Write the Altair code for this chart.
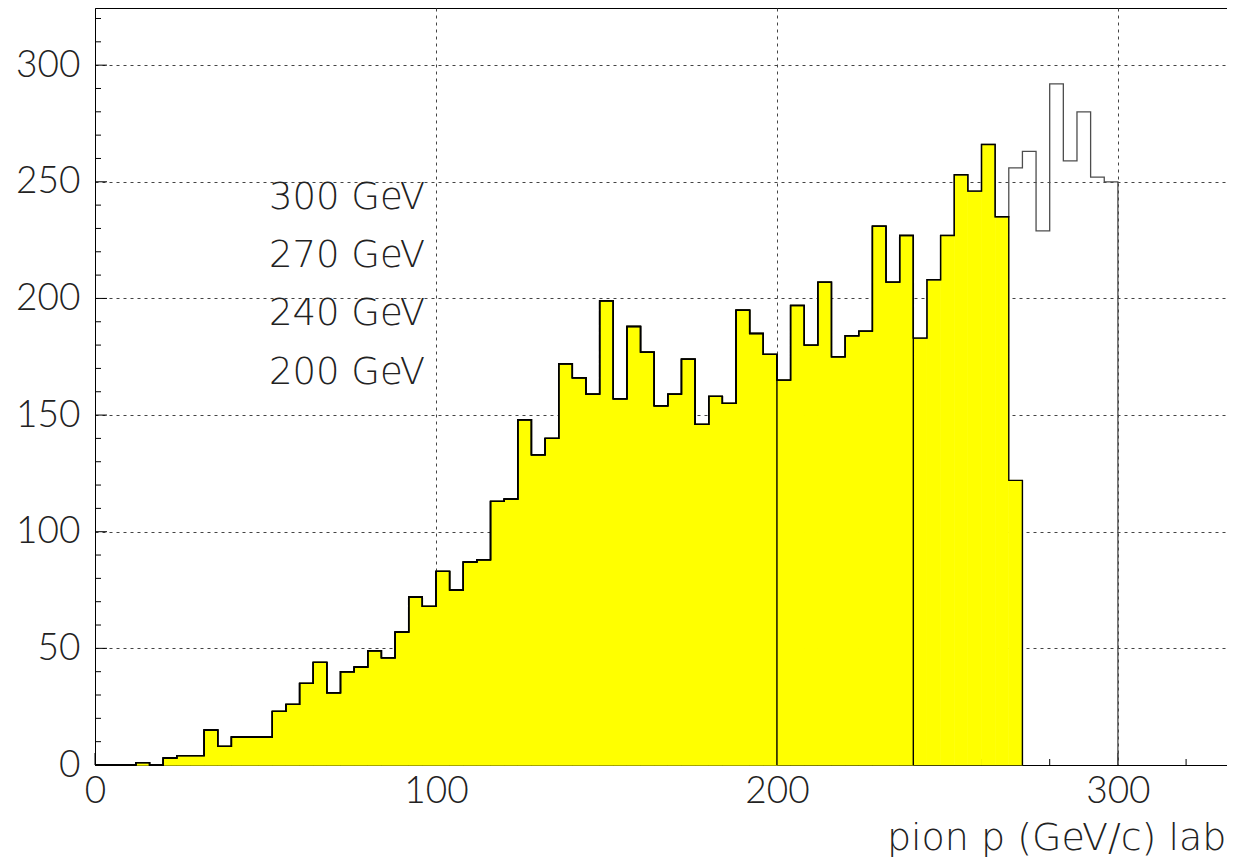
import altair as alt
import pandas as pd

# ---------------- data ----------------
BIN_WIDTH = 4  # GeV/c per bin

# counts of the 300 GeV histogram, bins starting at 0, 4, 8, ... 296
counts_300 = [
    0, 0, 0, 1, 0, 3, 4, 4, 15, 8, 12, 12, 12, 23, 26, 35, 44, 31, 40, 42, 49, 46, 57, 72, 68,
    83, 75, 87, 88, 113, 114, 148, 133, 140, 172, 166, 159, 199, 157, 188, 177, 154, 159, 174, 146,
    158, 155, 195, 185, 176,
    165, 197, 180, 207, 175, 184, 186, 231, 207, 227, 183, 208, 227, 253, 246, 266, 235, 256, 263,
    229, 292, 259, 280, 252, 250,
]

hist_names = ["300 GeV", "270 GeV", "240 GeV", "200 GeV"]
hist_nbins = [75, 68, 60, 50]          # number of 4-GeV bins in each histogram
hist_filled = [False, True, True, True]
last_bin_override = {"270 GeV": 122}   # last bin of the 270 GeV histogram

label_x = [51, 51, 51, 51]
label_y = [238.5, 213.5, 188.5, 163.5]

x_major = [0, 100, 200, 300]
x_minor = [v for v in range(0, 333, 20) if v not in x_major]
y_major = [0, 50, 100, 150, 200, 250, 300]
y_minor = [v for v in range(0, 325, 10) if v not in y_major]

X_DOMAIN = [0, 332]
Y_DOMAIN = [0, 324.5]

# ---------------- build tables ----------------
line_rows, rect_rows = [], []
for name, nb, filled in zip(hist_names, hist_nbins, hist_filled):
    vals = list(counts_300[:nb])
    if name in last_bin_override:
        vals[-1] = last_bin_override[name]
    pts = [(k * BIN_WIDTH, v) for k, v in enumerate(vals)]
    pts.append((nb * BIN_WIDTH, vals[-1]))
    for i, (x, y) in enumerate(pts):
        line_rows.append({"h": name, "i": i, "x": x, "y": y})
    line_rows.append({"h": name, "i": len(pts), "x": nb * BIN_WIDTH, "y": 0})
    if filled:
        for k, v in enumerate(vals):
            rect_rows.append({"h": name, "x": k * BIN_WIDTH, "x2": (k + 1) * BIN_WIDTH,
                              "y": v, "base": 0})

lines = pd.DataFrame(line_rows)
rects = pd.DataFrame(rect_rows)
labels = pd.DataFrame({"x": label_x, "y": label_y, "t": hist_names})

W, H = 1132, 757
TICK_FONT = "Lato"
TEXT_FONT = "DejaVu Sans"

xs = alt.Scale(domain=X_DOMAIN, nice=False, zero=False)
ys = alt.Scale(domain=Y_DOMAIN, nice=False, zero=False)

x_axis = alt.Axis(values=x_major, grid=True, tickSize=0, labelPadding=8, labelFlush=False,
                  labelOverlap=False, title="pion p (GeV/c) lab", titleX=1131, titleY=84,
                  titleAlign="right", titleBaseline="alphabetic", titleAnchor="end")
y_axis = alt.Axis(values=y_major, grid=True, tickSize=0, labelPadding=15, labelFlush=False,
                  labelOverlap=False, title=None)

ticks_x_major = alt.Chart(pd.DataFrame({"x": x_major})).mark_rule(color="black", strokeWidth=1).encode(
    x=alt.X("x:Q", scale=xs, axis=x_axis), y=alt.value(H), y2=alt.value(H - 12))
ticks_x_minor = alt.Chart(pd.DataFrame({"x": x_minor})).mark_rule(color="black", strokeWidth=1).encode(
    x=alt.X("x:Q", scale=xs), y=alt.value(H), y2=alt.value(H - 6))
ticks_y_major = alt.Chart(pd.DataFrame({"y": y_major})).mark_rule(color="black", strokeWidth=1).encode(
    y=alt.Y("y:Q", scale=ys, axis=y_axis), x=alt.value(0), x2=alt.value(12))
ticks_y_minor = alt.Chart(pd.DataFrame({"y": y_minor})).mark_rule(color="black", strokeWidth=1).encode(
    y=alt.Y("y:Q", scale=ys), x=alt.value(0), x2=alt.value(6))

fill = alt.Chart(rects).mark_rect(color="#ffff00", stroke="#ffff00", strokeWidth=0.6).encode(
    x=alt.X("x:Q", scale=xs), x2="x2:Q",
    y=alt.Y("y:Q", scale=ys), y2="base:Q")

outline_300 = alt.Chart(lines).transform_filter(alt.datum.h == "300 GeV").mark_line(
    interpolate="step-after", color="#4d4d4d", strokeWidth=1.3).encode(
    x=alt.X("x:Q", scale=xs), y=alt.Y("y:Q", scale=ys), detail="h:N", order="i:Q")

outline_rest = alt.Chart(lines).transform_filter(alt.datum.h != "300 GeV").mark_line(
    interpolate="step-after", color="black", strokeWidth=1.4).encode(
    x=alt.X("x:Q", scale=xs), y=alt.Y("y:Q", scale=ys), detail="h:N", order="i:Q")

text = alt.Chart(labels).mark_text(align="left", baseline="alphabetic", font=TEXT_FONT,
                                    fontWeight=200, fontSize=37, color="#222222").encode(
    x=alt.X("x:Q", scale=xs), y=alt.Y("y:Q", scale=ys), text="t:N")

chart = alt.layer(
    ticks_x_major, ticks_x_minor, ticks_y_major, ticks_y_minor,
    fill, outline_300, outline_rest, text,
).properties(
    width=W, height=H,
    autosize=alt.AutoSizeParams(type="none"),
    padding={"left": 87, "top": 0, "right": 0, "bottom": 94},
    background="white",
).configure_view(
    stroke="black", strokeWidth=1,
).configure_axis(
    labelFont=TICK_FONT, labelFontWeight=300, labelFontSize=37, labelColor="#222222",
    titleFont=TEXT_FONT, titleFontWeight=200, titleFontSize=38, titleColor="#222222",
    domainColor="black", domainWidth=1,
    gridColor="#444444", gridDash=[3, 4], gridWidth=1,
)

chart.save("out.html", embed_options={"renderer": "svg", "actions": False})
